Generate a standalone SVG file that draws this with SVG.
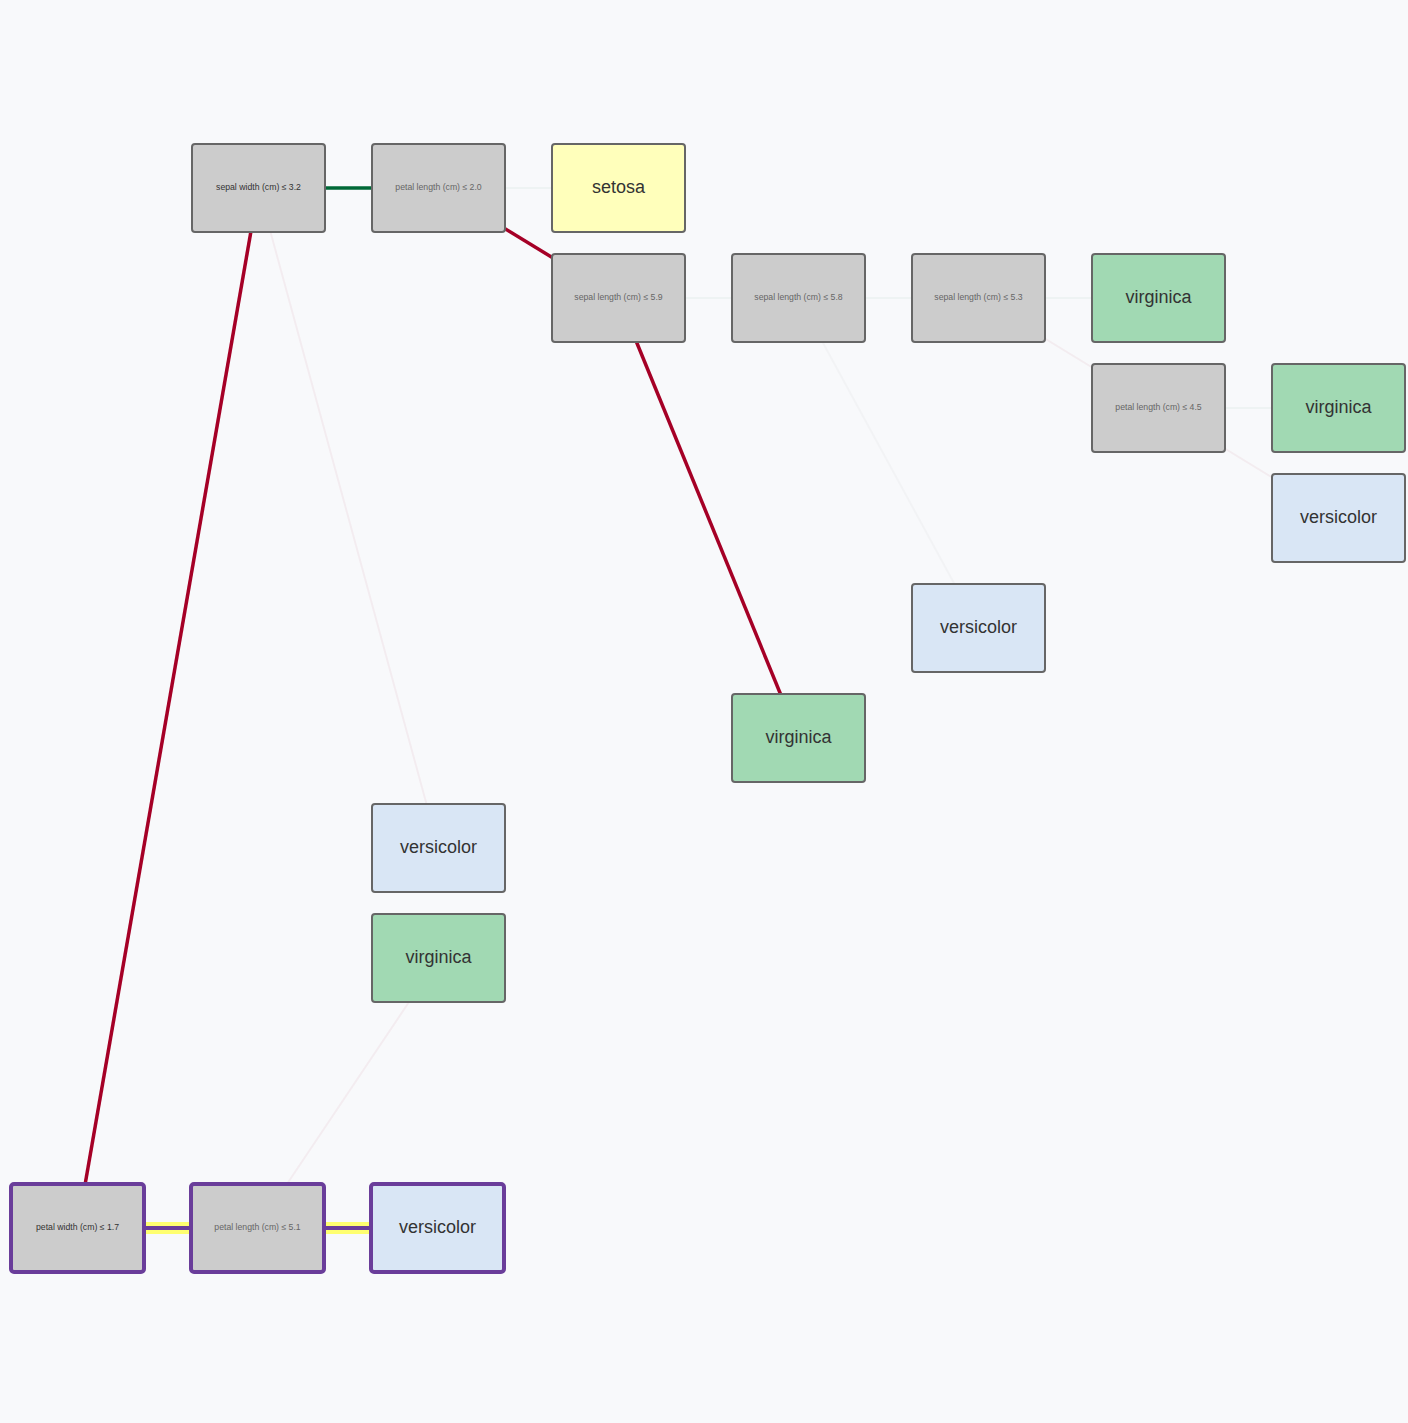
<svg xmlns="http://www.w3.org/2000/svg" width="1408" height="1423" viewBox="0 0 1408 1423">
<style>
.n rect{stroke:#666;stroke-width:2}
.d rect{fill:#cccccc}
.vi rect{fill:#a1d9b3}
.ve rect{fill:#d9e6f5}
.se rect{fill:#ffffbb}
.p rect{stroke:#6a3d9a;stroke-width:4}
text{font-family:"Liberation Sans",Arial,sans-serif;text-anchor:middle}
.dt{font-size:8.7px;fill:#666}
.dk{fill:#333}
.lt{font-size:18px;fill:#333}
.f1{stroke:#a50026;stroke-opacity:0.05;stroke-width:2;fill:none}
.f2{stroke:#006837;stroke-opacity:0.04;stroke-width:2;fill:none}
.f3{stroke:#888;stroke-opacity:0.05;stroke-width:2;fill:none}
.red{stroke:#a50026;stroke-width:3.5;fill:none}
.grn{stroke:#006837;stroke-width:3.5;fill:none}
.hy{stroke:#ffff70;stroke-width:12;fill:none}
.hp{stroke:#6a3d9a;stroke-width:4;fill:none}
</style>
<rect x="0" y="0" width="1408" height="1423" fill="#f8f9fb"/>
<g id="connectors">
<line class="f2" x1="438.5" y1="188" x2="618.5" y2="188"/>
<line class="f1" x1="258.5" y1="188" x2="438.5" y2="848"/>
<line class="f2" x1="618.5" y1="298" x2="798.5" y2="298"/>
<line class="f2" x1="798.5" y1="298" x2="978.5" y2="298"/>
<line class="f3" x1="798.5" y1="298" x2="978.5" y2="628"/>
<line class="f2" x1="978.5" y1="298" x2="1158.5" y2="298"/>
<line class="f1" x1="978.5" y1="298" x2="1158.5" y2="408"/>
<line class="f2" x1="1158.5" y1="408" x2="1338.5" y2="408"/>
<line class="f1" x1="1158.5" y1="408" x2="1338.5" y2="518"/>
<line class="f1" x1="438.5" y1="958" x2="257.5" y2="1228"/>
<line class="grn" x1="258.5" y1="188" x2="438.5" y2="188"/>
<line class="red" x1="438.5" y1="188" x2="618.5" y2="298"/>
<line class="red" x1="618.5" y1="298" x2="798.5" y2="738"/>
<line class="red" x1="258.5" y1="188" x2="77.5" y2="1228"/>
<line class="hy" x1="77.5" y1="1228" x2="257.5" y2="1228"/>
<line class="hp" x1="77.5" y1="1228" x2="257.5" y2="1228"/>
<line class="hy" x1="257.5" y1="1228" x2="437.5" y2="1228"/>
<line class="hp" x1="257.5" y1="1228" x2="437.5" y2="1228"/>
</g>
<g id="n_sw32" class="n d"><rect x="192" y="144" width="133" height="88" rx="3"/><text class="dt dk" x="258.5" y="190">sepal width (cm) ≤ 3.2</text></g>
<g id="n_pl20" class="n d"><rect x="372" y="144" width="133" height="88" rx="3"/><text class="dt" x="438.5" y="190">petal length (cm) ≤ 2.0</text></g>
<g id="n_setosa" class="n se"><rect x="552" y="144" width="133" height="88" rx="3"/><text class="lt" x="618.5" y="193">setosa</text></g>
<g id="n_sl59" class="n d"><rect x="552" y="254" width="133" height="88" rx="3"/><text class="dt" x="618.5" y="300">sepal length (cm) ≤ 5.9</text></g>
<g id="n_sl58" class="n d"><rect x="732" y="254" width="133" height="88" rx="3"/><text class="dt" x="798.5" y="300">sepal length (cm) ≤ 5.8</text></g>
<g id="n_sl53" class="n d"><rect x="912" y="254" width="133" height="88" rx="3"/><text class="dt" x="978.5" y="300">sepal length (cm) ≤ 5.3</text></g>
<g id="n_vi1" class="n vi"><rect x="1092" y="254" width="133" height="88" rx="3"/><text class="lt" x="1158.5" y="303">virginica</text></g>
<g id="n_pl45" class="n d"><rect x="1092" y="364" width="133" height="88" rx="3"/><text class="dt" x="1158.5" y="410">petal length (cm) ≤ 4.5</text></g>
<g id="n_vi2" class="n vi"><rect x="1272" y="364" width="133" height="88" rx="3"/><text class="lt" x="1338.5" y="413">virginica</text></g>
<g id="n_ve1" class="n ve"><rect x="1272" y="474" width="133" height="88" rx="3"/><text class="lt" x="1338.5" y="523">versicolor</text></g>
<g id="n_ve2" class="n ve"><rect x="912" y="584" width="133" height="88" rx="3"/><text class="lt" x="978.5" y="633">versicolor</text></g>
<g id="n_vi3" class="n vi"><rect x="732" y="694" width="133" height="88" rx="3"/><text class="lt" x="798.5" y="743">virginica</text></g>
<g id="n_ve3" class="n ve"><rect x="372" y="804" width="133" height="88" rx="3"/><text class="lt" x="438.5" y="853">versicolor</text></g>
<g id="n_vi4" class="n vi"><rect x="372" y="914" width="133" height="88" rx="3"/><text class="lt" x="438.5" y="963">virginica</text></g>
<g id="n_pw17" class="n d p"><rect x="11" y="1184" width="133" height="88" rx="3"/><text class="dt dk" x="77.5" y="1230">petal width (cm) ≤ 1.7</text></g>
<g id="n_pl51" class="n d p"><rect x="191" y="1184" width="133" height="88" rx="3"/><text class="dt" x="257.5" y="1230">petal length (cm) ≤ 5.1</text></g>
<g id="n_ve4" class="n ve p"><rect x="371" y="1184" width="133" height="88" rx="3"/><text class="lt" x="437.5" y="1233">versicolor</text></g>
</svg>
